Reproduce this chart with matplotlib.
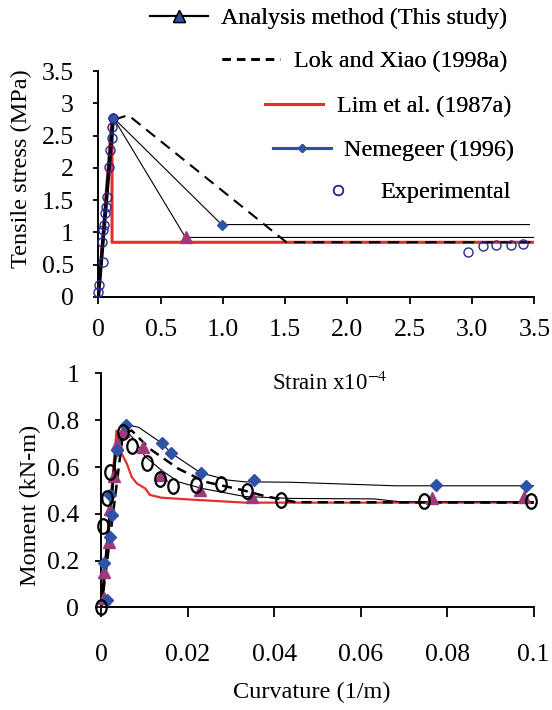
import numpy as np
import matplotlib.pyplot as plt
from matplotlib.lines import Line2D
from matplotlib.markers import MarkerStyle
from matplotlib.transforms import Affine2D

plt.rcParams['font.family'] = ['Liberation Serif', 'DejaVu Serif']
plt.rcParams['mathtext.fontset'] = 'stix'

# ---- data: tensile stress vs strain (x1e-4) ----
ana_strain = [0, 0.12, 0.70, 3.52]
ana_stress = [0, 2.78, 0.92, 0.92]
nem_strain = [0, 0.12, 0.99, 3.46]
nem_stress = [0, 2.78, 1.12, 1.12]
lok_strain = [0, 0.13, 0.24, 1.51, 3.5]
lok_stress = [0, 2.75, 2.82, 0.845, 0.845]
lim_strain = [0, 0.11, 0.11, 3.5]
lim_stress = [0, 2.80, 0.845, 0.845]
exp_strain = [0, 0.008, 0.035, 0.032, 0.04, 0.046, 0.054, 0.062, 0.067, 0.088, 0.094,
              0.107, 0.112, 0.12, 2.97, 3.085, 3.19, 3.31, 3.41]
exp_stress = [0.08, 0.18, 0.54, 0.85, 1.04, 1.11, 1.30, 1.40, 1.55, 2.02, 2.28,
              2.46, 2.64, 2.78, 0.70, 0.78, 0.80, 0.80, 0.82]

# ---- data: moment vs curvature ----
ana_curv = [0, 0.0035, 0.0052, 0.0075, 0.0101, 0.014, 0.0178, 0.0232, 0.0332, 0.044, 0.063, 0.069, 0.1]
ana_mom = [0, 0.70, 0.765, 0.72, 0.645, 0.585, 0.537, 0.509, 0.474, 0.466, 0.464, 0.452, 0.452]
ana_pt_curv = [0.0005, 0.0007, 0.0018, 0.0021, 0.0028, 0.0035, 0.0051, 0.0097, 0.0137, 0.0228, 0.0349, 0.0764, 0.0978]
ana_pt_mom = [0.04, 0.15, 0.28, 0.42, 0.56, 0.70, 0.756, 0.685, 0.565, 0.502, 0.471, 0.466, 0.474]

nem_curv = [0, 0.0035, 0.0057, 0.0086, 0.014, 0.0161, 0.023, 0.0294, 0.0332, 0.044, 0.068, 0.1]
nem_mom = [0, 0.67, 0.781, 0.77, 0.702, 0.66, 0.575, 0.544, 0.537, 0.535, 0.52, 0.52]
nem_pt_curv = [0.0012, 0.0006, 0.0021, 0.0024, 0.002, 0.0035, 0.0057, 0.01395, 0.0161, 0.023, 0.0354, 0.0774, 0.0982]
nem_pt_mom = [0.03, 0.19, 0.30, 0.396, 0.48, 0.671, 0.781, 0.702, 0.66, 0.575, 0.544, 0.523, 0.519]

lok_curv = [0, 0.005, 0.007, 0.0112, 0.0178, 0.024, 0.0325, 0.038, 0.045, 0.1]
lok_mom = [0, 0.745, 0.756, 0.678, 0.593, 0.537, 0.502, 0.475, 0.45, 0.448]

lim_curv = [0, 0.0035, 0.0047, 0.0059, 0.007, 0.0082, 0.0101, 0.0105, 0.0112, 0.0139, 0.0217, 0.0332, 0.1]
lim_mom = [0, 0.756, 0.657, 0.614, 0.558, 0.53, 0.509, 0.50, 0.481, 0.469, 0.46, 0.448, 0.448]

exp_curv = [0, 0.0004, 0.0012, 0.0021, 0.0051, 0.007, 0.0106, 0.0136, 0.0166, 0.0219, 0.0276,
            0.0336, 0.0415, 0.0747, 0.0995]
exp_mom = [0, 0.347, 0.466, 0.58, 0.748, 0.692, 0.617, 0.547, 0.519, 0.523, 0.526,
           0.498, 0.46, 0.457, 0.455]

top_xticks = [0, 0.5, 1.0, 1.5, 2.0, 2.5, 3.0, 3.5]
top_xlabels = ['0', '0.5', '1.0', '1.5', '2.0', '2.5', '3.0', '3.5']
top_yticks = [0, 0.5, 1, 1.5, 2, 2.5, 3, 3.5]
top_ylabels = ['0', '0.5', '1', '1.5', '2', '2.5', '3', '3.5']
bot_xticks = [0, 0.02, 0.04, 0.06, 0.08, 0.1]
bot_xlabels = ['0', '0.02', '0.04', '0.06', '0.08', '0.1']
bot_yticks = [0, 0.2, 0.4, 0.6, 0.8, 1]
bot_ylabels = ['0', '0.2', '0.4', '0.6', '0.8', '1']

RED = '#e3302b'
BLUE = '#2d52a6'
PURPLE = '#9c3a7c'
NAVY = '#2a2a96'

fig = plt.figure(figsize=(5.52, 7.10), dpi=100)
ax1 = fig.add_axes([0.1781, 0.5821, 0.790, 0.3175])
ax2 = fig.add_axes([0.1837, 0.1444, 0.783, 0.3296])

# ---- top plot ----
ax1.plot(lim_strain, lim_stress, color=RED, lw=2.2, zorder=2)
ax1.plot(lok_strain[1:], lok_stress[1:], color='black', lw=1.5, dashes=(5.5, 3.5), zorder=3)
ax1.plot(ana_strain[1:], ana_stress[1:], color='black', lw=0.8, zorder=3)
ax1.plot(nem_strain[1:], nem_stress[1:], color='black', lw=0.8, zorder=3)
ax1.plot(ana_strain[:2], ana_stress[:2], color='black', lw=2.6, zorder=4)
ax1.plot(ana_strain[2:3], ana_stress[2:3], ls='none', marker='^', ms=8, color=PURPLE, zorder=5)
ax1.plot(nem_strain[1:3], nem_stress[1:3], ls='none', marker='D', ms=5.5, color=BLUE, zorder=5)
ax1.plot(exp_strain, exp_stress, ls='none', marker='o', ms=6.5, mfc='none', mec=NAVY,
         mew=1.0, zorder=6, clip_on=False)

ax1.set_xlim(0, 3.5)
ax1.set_ylim(0, 3.5)
ax1.set_xticks(top_xticks, top_xlabels)
ax1.set_yticks(top_yticks, top_ylabels)

# ---- bottom plot ----
ellipse = MarkerStyle('o', transform=Affine2D().scale(0.72, 1.0))
ax2.plot(lim_curv, lim_mom, color=RED, lw=1.6, zorder=2)
ax2.plot(lok_curv, lok_mom, color='black', lw=1.8, dashes=(4, 2.5), zorder=3)
ax2.plot(ana_curv, ana_mom, color='black', lw=0.8, zorder=3)
ax2.plot(nem_curv, nem_mom, color='black', lw=0.8, zorder=3)
ax2.plot(ana_curv[:2], ana_mom[:2], color='black', lw=2.0, zorder=3)
ax2.plot(ana_pt_curv, ana_pt_mom, ls='none', marker='^', ms=8, color=PURPLE, zorder=5, clip_on=False)
ax2.plot(nem_pt_curv, nem_pt_mom, ls='none', marker='D', ms=6.5, color=BLUE, zorder=5, clip_on=False)
ax2.plot(exp_curv, exp_mom, ls='none', marker=ellipse, ms=10.5, mfc='none', mec='black',
         mew=1.6, zorder=6, clip_on=False)

ax2.set_xlim(0, 0.1)
ax2.set_ylim(0, 1)
ax2.set_xticks(bot_xticks, bot_xlabels)
ax2.set_yticks(bot_yticks, bot_ylabels)

for ax in (ax1, ax2):
    ax.spines['top'].set_visible(False)
    ax.spines['right'].set_visible(False)
    ax.spines['left'].set_linewidth(1.4)
    ax.spines['bottom'].set_linewidth(1.4)
    ax.tick_params(labelsize=18.5, width=1.3, direction='out')

ax1.tick_params(axis='x', length=5, pad=11)
ax1.tick_params(axis='y', length=3.5, pad=14)
ax2.tick_params(axis='x', length=7, pad=19)
ax2.tick_params(axis='y', length=4, pad=12)

fig.text(21 / 552, 1 - 169 / 710, 'Tensile stress (MPa)', rotation=90, ha='center', va='center', fontsize=17.5)
fig.text(30 / 552, 1 - 505 / 710, 'Moment (kN-m)', rotation=90, ha='center', va='center', fontsize=17.5)
fig.text(312 / 552, 1 - 692 / 710, 'Curvature (1/m)', ha='center', va='center', fontsize=17.5)
fig.text(330 / 552, 1 - 383 / 710, 'Strain x10$^{-4}$', ha='center', va='center', fontsize=16.5)

# ---- legend (one entry per row, right aligned) ----
entries = [
    (Line2D([], [], color='black', lw=1.5, marker='^', ms=9, mfc=BLUE, mec='black'),
     'Analysis method (This study)', 507, 18.5),
    (Line2D([], [], color='black', lw=2.0, dashes=(3, 2.2)), 'Lok and Xiao (1998a)', 507, 61.5),
    (Line2D([], [], color=RED, lw=2.2), 'Lim et al. (1987a)', 511, 106.5),
    (Line2D([], [], color=BLUE, lw=2.2, marker='D', ms=4.5, mfc=BLUE, mec=BLUE), 'Nemegeer (1996)', 514, 150.5),
    (Line2D([], [], ls='none', marker='o', ms=7, mfc='none', mec=NAVY, mew=1.1), 'Experimental', 511, 192.5),
]
for handle, label, xr, yc in entries:
    leg = fig.legend([handle], [label], loc='center right', bbox_to_anchor=(xr / 552, 1 - yc / 710),
                     frameon=False, fontsize=17.4, handlelength=2.4, handletextpad=0.55,
                     borderpad=0, borderaxespad=0)
    fig.add_artist(leg)

fig.savefig('out.png', dpi=100)
